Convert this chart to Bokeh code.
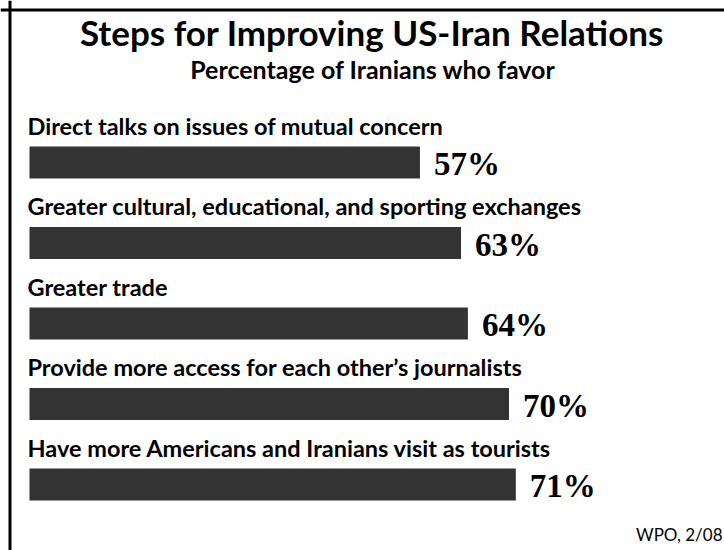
from bokeh.plotting import figure
from bokeh.models import ColumnDataSource, Range1d, Label, Span
from bokeh.core.properties import value
from bokeh.embed import file_html
from bokeh.resources import INLINE

title_text = "Steps for Improving US-Iran Relations"
subtitle_text = "Percentage of Iranians who favor"
source_text = "WPO, 2/08"
categories = [
    "Direct talks on issues of mutual concern",
    "Greater cultural, educational, and sporting exchanges",
    "Greater trade",
    "Provide more access for each other\u2019s journalists",
    "Have more Americans and Iranians visit as tourists",
]
values = [57, 63, 64, 70, 71]

W, H = 724, 550
X0_PX, PX_PER = 29.0, 6.85
ROW0_PX, ROW_PX = 162.0, 80.5
MID = 0.34  # distance from text middle to alphabetic baseline, in em


def mid_from_baseline(baseline_px, size_px):
    return baseline_px - MID * size_px


rows = list(range(len(categories)))
src = ColumnDataSource(dict(
    row=rows, val=values, cat=categories,
    lab=[f"{v}%" for v in values],
))

p = figure(width=W, height=H, output_backend="svg", toolbar_location=None,
           x_axis_location=None, y_axis_location=None, min_border=0,
           x_range=Range1d(-X0_PX / PX_PER, (W - X0_PX) / PX_PER),
           y_range=Range1d((H - ROW0_PX) / ROW_PX, -ROW0_PX / ROW_PX))
p.grid.visible = False
p.outline_line_color = None
p.background_fill_color = "white"
p.border_fill_color = "white"

p.hbar(y="row", right="val", left=0, height=32 / ROW_PX, source=src,
       fill_color="#333333", line_color=None)

LAB_SIZE = 23.5
p.text(x=0, y="row", text="cat", source=src, x_offset=-2,
       y_offset=mid_from_baseline(-29, LAB_SIZE),
       text_font=value("Lato"), text_font_style="bold",
       text_font_size=f"{LAB_SIZE}px",
       text_color="black", text_baseline="middle", text_align="left")

VAL_SIZE = 33
p.text(x="val", y="row", text="lab", source=src, x_offset=14,
       y_offset=mid_from_baseline(13, VAL_SIZE),
       text_font=value("Liberation Serif"), text_font_style="bold",
       text_font_size=f"{VAL_SIZE}px", text_color="black",
       text_baseline="middle", text_align="left")

p.add_layout(Label(x=371.5, y=H - mid_from_baseline(43, 35),
                   x_units="screen", y_units="screen",
                   text=title_text, text_font="Lato", text_font_style="bold",
                   text_font_size="35px", text_align="center",
                   text_baseline="middle", text_color="black"))
p.add_layout(Label(x=372.5, y=H - mid_from_baseline(77, 25),
                   x_units="screen", y_units="screen",
                   text=subtitle_text, text_font="Lato", text_font_style="bold",
                   text_font_size="25px", text_align="center",
                   text_baseline="middle", text_color="black"))
p.add_layout(Label(x=722, y=H - mid_from_baseline(540, 17),
                   x_units="screen", y_units="screen",
                   text=source_text, text_font="Lato", text_font_style="normal",
                   text_font_size="17px", text_align="right",
                   text_baseline="middle", text_color="black"))

p.add_layout(Span(location=(9.5 - X0_PX) / PX_PER, dimension="height",
                  line_color="black", line_width=3))
p.add_layout(Span(location=(9.5 - ROW0_PX) / ROW_PX, dimension="width",
                  line_color="black", line_width=3))

open("out.html", "w").write(file_html(p, INLINE))
